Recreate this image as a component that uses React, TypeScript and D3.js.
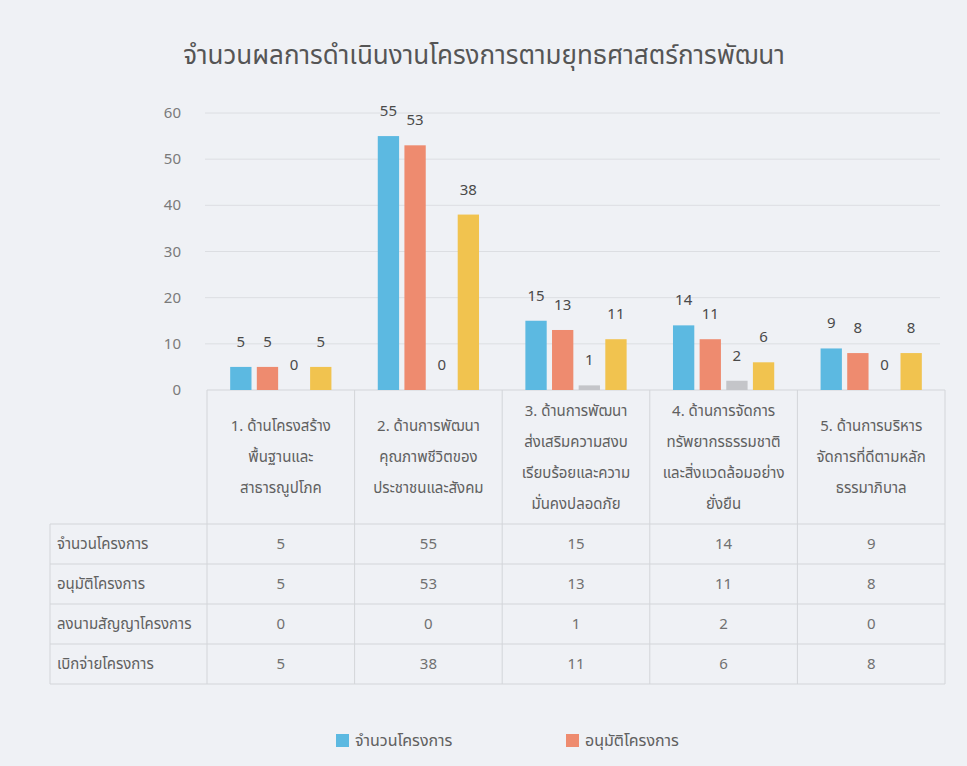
import React from "react";
import * as d3 from "d3";

const title = "จำนวนผลการดำเนินงานโครงการตามยุทธศาสตร์การพัฒนา";
const categories = ["c1", "c2", "c3", "c4", "c5"];
const categoryLines = [
  ["1. ด้านโครงสร้าง", "พื้นฐานและ", "สาธารณูปโภค"],
  ["2. ด้านการพัฒนา", "คุณภาพชีวิตของ", "ประชาชนและสังคม"],
  ["3. ด้านการพัฒนา", "ส่งเสริมความสงบ", "เรียบร้อยและความ", "มั่นคงปลอดภัย"],
  ["4. ด้านการจัดการ", "ทรัพยากรธรรมชาติ", "และสิ่งแวดล้อมอย่าง", "ยั่งยืน"],
  ["5. ด้านการบริหาร", "จัดการที่ดีตามหลัก", "ธรรมาภิบาล"],
];
const seriesNames = ["จำนวนโครงการ", "อนุมัติโครงการ", "ลงนามสัญญาโครงการ", "เบิกจ่ายโครงการ"];
const seriesColors = ["#5cb9e1", "#ee8b6f", "#c4c5c9", "#f1c34f"];
const projects = [5, 55, 15, 14, 9];
const approved = [5, 53, 13, 11, 8];
const signed = [0, 0, 1, 2, 0];
const disbursed = [5, 38, 11, 6, 8];
const seriesValues = [projects, approved, signed, disbursed];
const yTicks = [0, 10, 20, 30, 40, 50, 60];
const legendShown = [0, 1];

const W = 967;
const H = 766;
const FONT = "Tahoma, 'Noto Sans Thai', 'Leelawadee UI', 'Noto Sans', sans-serif";

export default function App() {
  const x0 = d3.scaleBand<string>().domain(categories).range([207, 945]).paddingInner(0).paddingOuter(0);
  const bw = x0.bandwidth();
  const x1 = d3
    .scaleBand<number>()
    .domain([0, 1, 2, 3])
    .range([0, bw])
    .paddingInner(0.2)
    .paddingOuter(0.87);
  const y = d3.scaleLinear().domain([0, 60]).range([390, 113]);

  const tableTop = 390;
  const headerBottom = 524;
  const rowH = 40;
  const tableLeft = 50;
  const tableRight = 945;
  const rowLines = d3.range(seriesNames.length + 1).map((i) => headerBottom + i * rowH);
  const lineColor = "#d3d5d9";

  return (
    <svg
      width={W}
      height={H}
      style={{ position: "absolute", left: 0, top: 0, fontFamily: FONT }}
    >
      <rect x={0} y={0} width={W} height={H} fill="#eff1f5" />
      <text x={484} y={64} textAnchor="middle" fontSize={26} fill="#555">
        {title}
      </text>

      {/* grid */}
      {yTicks.map((t) => (
        <g key={t}>
          {t !== 0 && (
            <line x1={205} x2={940} y1={y(t)} y2={y(t)} stroke="#dcdee2" strokeWidth={1} />
          )}
          <text x={181} y={y(t) + 5} textAnchor="end" fontSize={15} fill="#7a7a7a">
            {t}
          </text>
        </g>
      ))}

      {/* table lines */}
      <line x1={207} x2={tableRight} y1={tableTop} y2={tableTop} stroke={lineColor} />
      {rowLines.map((ry, i) => (
        <line key={i} x1={tableLeft} x2={tableRight} y1={ry} y2={ry} stroke={lineColor} />
      ))}
      <line x1={tableLeft} x2={tableLeft} y1={headerBottom} y2={rowLines[rowLines.length - 1]} stroke={lineColor} />
      {categories.map((c) => (
        <line
          key={c}
          x1={x0(c)!}
          x2={x0(c)!}
          y1={tableTop}
          y2={rowLines[rowLines.length - 1]}
          stroke={lineColor}
        />
      ))}
      <line x1={tableRight} x2={tableRight} y1={tableTop} y2={rowLines[rowLines.length - 1]} stroke={lineColor} />

      {/* bars */}
      {categories.map((c, ci) => (
        <g key={c} transform={`translate(${x0(c)},0)`}>
          {seriesValues.map((vals, si) => {
            const v = vals[ci];
            const bx = x1(si)!;
            return (
              <g key={si}>
                <rect
                  x={bx}
                  y={y(v)}
                  width={x1.bandwidth()}
                  height={y(0) - y(v)}
                  fill={seriesColors[si]}
                />
                <text
                  x={bx + x1.bandwidth() / 2}
                  y={y(v) - 20}
                  textAnchor="middle"
                  fontSize={15}
                  fill="#4a4a4a"
                >
                  {v}
                </text>
              </g>
            );
          })}
        </g>
      ))}

      {/* category labels */}
      {categories.map((c, ci) => {
        const lines = categoryLines[ci];
        const cx = x0(c)! + bw / 2;
        const lh = 31;
        const mid = (tableTop + headerBottom) / 2;
        const start = mid - ((lines.length - 1) * lh) / 2;
        return (
          <text key={c} textAnchor="middle" fontSize={15} fill="#606060">
            {lines.map((l, li) => (
              <tspan key={li} x={cx} y={start + li * lh + 5}>
                {l}
              </tspan>
            ))}
          </text>
        );
      })}

      {/* table rows */}
      {seriesNames.map((s, si) => {
        const cy = rowLines[si] + rowH / 2 + 5;
        return (
          <g key={s}>
            <text x={57} y={cy} fontSize={15} fill="#606060">
              {s}
            </text>
            {categories.map((c, ci) => (
              <text key={c} x={x0(c)! + bw / 2} y={cy} textAnchor="middle" fontSize={15} fill="#707070">
                {seriesValues[si][ci]}
              </text>
            ))}
          </g>
        );
      })}

      {/* legend */}
      {legendShown.map((si, i) => {
        const lx = 336 + i * 230;
        return (
          <g key={si}>
            <rect x={lx} y={734} width={13} height={13} fill={seriesColors[si]} />
            <text x={lx + 19} y={746} fontSize={16} fill="#606060">
              {seriesNames[si]}
            </text>
          </g>
        );
      })}
    </svg>
  );
}
